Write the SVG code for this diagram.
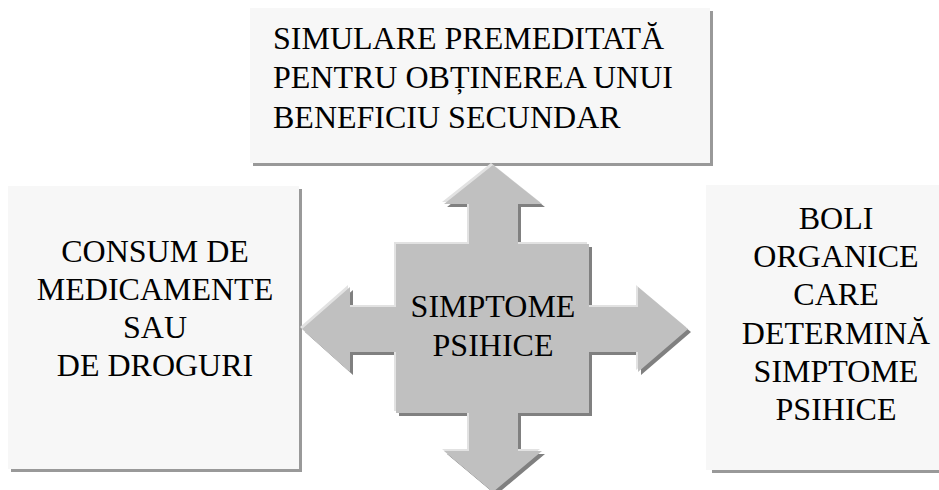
<svg xmlns="http://www.w3.org/2000/svg" width="939" height="490" viewBox="0 0 939 490">
<style>
.box{fill:#f7f7f7}
.shd{fill:#999999}
</style>
<rect width="939" height="490" fill="#fff"/>
<g id="top-box">
<rect class="shd" x="253" y="11" width="460" height="155"/>
<rect class="box" x="250" y="8" width="460" height="155"/>
<text x="273" y="49" font-size="32" font-family="Times New Roman, Liberation Serif, serif">SIMULARE PREMEDITATĂ</text>
<text x="273" y="88" font-size="32" font-family="Times New Roman, Liberation Serif, serif">PENTRU OBȚINEREA UNUI</text>
<text x="273" y="128" font-size="32" font-family="Times New Roman, Liberation Serif, serif">BENEFICIU SECUNDAR</text>
</g>
<g id="left-box">
<rect class="shd" x="11" y="189" width="291" height="283"/>
<rect class="box" x="8" y="186" width="291" height="283"/>
<text x="155" y="262" font-size="32" font-family="Times New Roman, Liberation Serif, serif" text-anchor="middle">CONSUM DE</text>
<text x="155" y="300" font-size="32" font-family="Times New Roman, Liberation Serif, serif" text-anchor="middle">MEDICAMENTE</text>
<text x="155" y="338" font-size="32" font-family="Times New Roman, Liberation Serif, serif" text-anchor="middle">SAU</text>
<text x="155" y="376" font-size="32" font-family="Times New Roman, Liberation Serif, serif" text-anchor="middle">DE DROGURI</text>
</g>
<g id="right-box">
<rect class="shd" x="712" y="188" width="230" height="285"/>
<rect class="box" x="706" y="185" width="236" height="285"/>
<text x="836" y="229" font-size="32" font-family="Times New Roman, Liberation Serif, serif" text-anchor="middle">BOLI</text>
<text x="836" y="267" font-size="32" font-family="Times New Roman, Liberation Serif, serif" text-anchor="middle">ORGANICE</text>
<text x="836" y="305" font-size="32" font-family="Times New Roman, Liberation Serif, serif" text-anchor="middle">CARE</text>
<text x="836" y="344" font-size="32" font-family="Times New Roman, Liberation Serif, serif" text-anchor="middle">DETERMINĂ</text>
<text x="836" y="382" font-size="32" font-family="Times New Roman, Liberation Serif, serif" text-anchor="middle">SIMPTOME</text>
<text x="836" y="420" font-size="32" font-family="Times New Roman, Liberation Serif, serif" text-anchor="middle">PSIHICE</text>
</g>
<g id="connectors">
<polygon fill="#808080" transform="translate(3,3)" points="493,165 542,204 518,204 518,244 589,244 589,307 638,307 638,287 688,329 638,372 638,352 589,352 589,413 518,413 518,451 542,451 493,492 444,451 469,451 469,413 396,413 396,352 350,352 350,372 302,329 350,287 350,307 396,307 396,244 469,244 469,204 444,204"/>
<polygon fill="#e2e2e2" transform="translate(-2,-2)" points="493,165 542,204 518,204 518,244 589,244 589,307 638,307 638,287 688,329 638,372 638,352 589,352 589,413 518,413 518,451 542,451 493,492 444,451 469,451 469,413 396,413 396,352 350,352 350,372 302,329 350,287 350,307 396,307 396,244 469,244 469,204 444,204"/>
<polygon fill="#c0c0c0" points="493,165 542,204 518,204 518,244 589,244 589,307 638,307 638,287 688,329 638,372 638,352 589,352 589,413 518,413 518,451 542,451 493,492 444,451 469,451 469,413 396,413 396,352 350,352 350,372 302,329 350,287 350,307 396,307 396,244 469,244 469,204 444,204"/>
</g>
<g id="center">
<text x="493" y="317" font-size="32" font-family="Times New Roman, Liberation Serif, serif" text-anchor="middle">SIMPTOME</text>
<text x="493" y="356" font-size="32" font-family="Times New Roman, Liberation Serif, serif" text-anchor="middle">PSIHICE</text>
</g>
</svg>
